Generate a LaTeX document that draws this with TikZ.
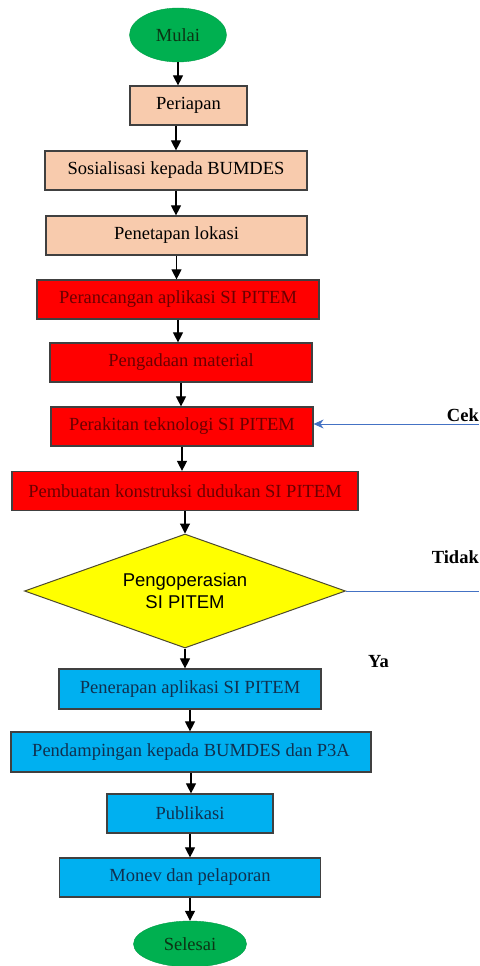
\documentclass[tikz,border=0pt]{standalone}
\usepackage{fontspec}
\setmainfont{Liberation Serif}
\newfontfamily\decfont{Liberation Sans}
\usetikzlibrary{shapes.geometric,arrows.meta}
\definecolor{prepfill}{HTML}{F8CBAD}
\definecolor{makefill}{HTML}{FF0000}
\definecolor{usefill}{HTML}{00B0F0}
\definecolor{endfill}{HTML}{00B050}
\definecolor{decfill}{HTML}{FFFF00}
\definecolor{loopblue}{HTML}{4472C4}
\definecolor{maketext}{HTML}{6B0000}
\definecolor{usetext}{HTML}{10304F}
\definecolor{endtext}{HTML}{0C3414}
\tikzset{
	box/.style={draw=black!75, line width=1.2pt, rectangle, inner sep=0pt, minimum height=39pt, font=\fontsize{18.5}{21}\selectfont},
	prepbox/.style={box, fill=prepfill, text=black},
	makebox/.style={box, fill=makefill, text=maketext},
	usebox/.style={box, fill=usefill, text=usetext},
	terminal/.style={ellipse, fill=endfill, draw=endfill!90!black, inner sep=0pt, text=endtext, font=\fontsize{18.5}{21}\selectfont},
	decision/.style={diamond, aspect=2.8, fill=decfill, draw=black!60!olive, line width=1pt, inner sep=0pt, align=center, font=\decfont\fontsize{18.5}{22}\selectfont},
	flow/.style={line width=1.1pt, -{Triangle[width=10pt,length=10pt]}},
	back/.style={line width=0.8pt, color=loopblue},
	answer/.style={inner sep=0pt, font=\fontsize{18.5}{21}\selectfont\bfseries}
}
\begin{document}
\begin{tikzpicture}[x=1pt,y=-1pt]
	%%%%% START %%%%%
	\useasboundingbox[fill=white] (0,0) rectangle (479,966);
	
	\node[terminal, minimum width=97pt, minimum height=54pt] (mulai) at (178,35) {Mulai};
	
	\node[prepbox, minimum width=117pt] (periapan) at (188.5,105.5) {Periapan};
	\node[prepbox, minimum width=262pt] (sosialisasi) at (176,170.5) {Sosialisasi kepada BUMDES};
	\node[prepbox, minimum width=261pt] (lokasi) at (176.5,235.5) {Penetapan lokasi};
	
	\node[makebox, minimum width=282pt] (rancang) at (178,299.5) {Perancangan aplikasi SI PITEM};
	\node[makebox, minimum width=262pt] (material) at (181,362.5) {Pengadaan material};
	\node[makebox, minimum width=262pt] (rakit) at (182,426.5) {Perakitan teknologi SI PITEM};
	\node[makebox, minimum width=346pt] (dudukan) at (185,491) {Pembuatan konstruksi dudukan SI PITEM};
	
	\node[decision, minimum width=321pt, minimum height=114pt] (operasi) at (185,591) {Pengoperasian\\SI PITEM};
	
	\node[usebox, minimum width=262pt, minimum height=40pt] (terap) at (190,689) {Penerapan aplikasi SI PITEM};
	\node[usebox, minimum width=360pt, minimum height=40pt] (damping) at (191,752) {Pendampingan kepada BUMDES dan P3A};
	\node[usebox, minimum width=166pt] (publikasi) at (190,813.5) {Publikasi};
	\node[usebox, minimum width=261pt] (monev) at (190,877.5) {Monev dan pelaporan};
	
	\node[terminal, minimum width=113pt, minimum height=46pt] (selesai) at (190,944) {Selesai};
	
	% main flow
	\draw[flow] (mulai) -- (mulai |- periapan.north);
	\draw[flow] (sosialisasi |- periapan.south) -- (sosialisasi);
	\draw[flow] (sosialisasi) -- (sosialisasi |- lokasi.north);
	\draw[flow] (lokasi) -- (lokasi |- rancang.north);
	\draw[flow] (rancang) -- (rancang |- material.north);
	\draw[flow] (material) -- (material |- rakit.north);
	\draw[flow] (rakit) -- (rakit |- dudukan.north);
	\draw[flow] (dudukan) -- (operasi);
	\draw[flow] (operasi) -- (operasi |- terap.north);
	\draw[flow] (terap) -- (terap |- damping.north);
	\draw[flow] (damping) -- (damping |- publikasi.north);
	\draw[flow] (publikasi) -- (monev);
	\draw[flow] (monev) -- (selesai);
	
	% loop back
	\coordinate (cekend) at (479,424);
	\coordinate (tidakend) at (479,591);
	\draw[back, -{Stealth[width=9pt,length=10pt]}] (cekend) -- (cekend -| rakit.east);
	\draw[back] (operasi.east) -- (tidakend);
	
	\node[answer, anchor=east] (cek) at (479,415) {Cek};
	\node[answer, anchor=east] (tidak) at (479,557) {Tidak};
	\node[answer] (ya) at (378.5,662) {Ya};
	
	%%%%% END %%%%%
\end{tikzpicture}
\end{document}
